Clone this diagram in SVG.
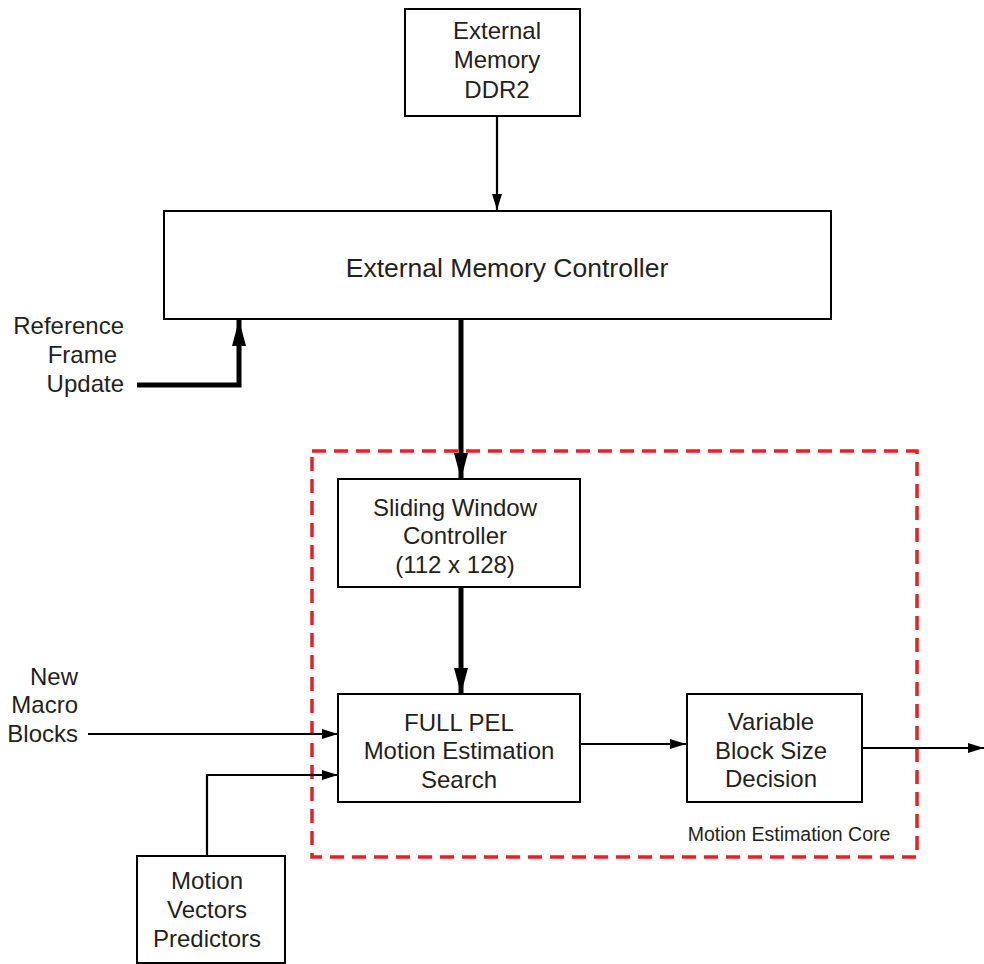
<svg xmlns="http://www.w3.org/2000/svg" width="984" height="964" viewBox="0 0 984 964">
<style>
.box{fill:#fff;stroke:#000;stroke-width:2}
.t{font-family:"Liberation Sans",Arial,sans-serif;font-size:24px;fill:#231f20;text-anchor:middle}
.tr{font-family:"Liberation Sans",Arial,sans-serif;font-size:24px;fill:#231f20;text-anchor:end}
.thin{fill:none;stroke:#000;stroke-width:2.2}
.thick{fill:none;stroke:#000;stroke-width:5}
</style>
<defs>
<marker id="ab" markerWidth="16" markerHeight="10" refX="16" refY="5" orient="auto" markerUnits="userSpaceOnUse"><path d="M0,0 L16,5 L0,10 Z" fill="#000"/></marker>
<marker id="ak" markerWidth="26" markerHeight="14" refX="26" refY="7" orient="auto" markerUnits="userSpaceOnUse"><path d="M0,0 L26,7 L0,14 Z" fill="#000"/></marker>
</defs>
<rect x="312" y="451" width="605" height="406" fill="none" stroke="#ed1c24" stroke-width="3.5" stroke-dasharray="14,8"/>
<text x="789" y="841" font-family="'Liberation Sans',Arial,sans-serif" font-size="19.5" fill="#231f20" text-anchor="middle">Motion Estimation Core</text>
<g id="connectors">
<line x1="497" y1="116" x2="497" y2="210" class="thin" marker-end="url(#ab)"/>
<polyline points="137,385 239,385 239,320" class="thick" marker-end="url(#ak)"/>
<line x1="461" y1="319" x2="461" y2="479" class="thick" marker-end="url(#ak)"/>
<line x1="461" y1="587" x2="461" y2="694" class="thick" marker-end="url(#ak)"/>
<line x1="88" y1="734" x2="338" y2="734" class="thin" marker-end="url(#ab)"/>
<polyline points="207,856 207,775 338,775" class="thin" marker-end="url(#ab)"/>
<line x1="580" y1="744" x2="686" y2="744" class="thin" marker-end="url(#ab)"/>
<line x1="862" y1="748" x2="984" y2="748" class="thin" marker-end="url(#ab)"/>
</g>
<g id="ddr2"><rect x="405" y="9" width="175" height="107" class="box"/>
<text class="t" x="497" y="39">External</text><text class="t" x="497" y="68">Memory</text><text class="t" x="497" y="98">DDR2</text></g>
<g id="emc"><rect x="164" y="211" width="667" height="108" class="box"/>
<text class="t" x="507" y="277" style="font-size:26.5px">External Memory Controller</text></g>
<g id="rfu"><text class="tr" x="124" y="334">Reference</text><text class="tr" x="117" y="363">Frame</text><text class="tr" x="124" y="392">Update</text></g>
<g id="swc"><rect x="338" y="479" width="242" height="108" class="box"/>
<text class="t" x="455" y="516">Sliding Window</text><text class="t" x="455" y="544">Controller</text><text class="t" x="455" y="573">(112 x 128)</text></g>
<g id="fullpel"><rect x="338" y="694" width="242" height="108" class="box"/>
<text class="t" x="459" y="731">FULL PEL</text><text class="t" x="459" y="759">Motion Estimation</text><text class="t" x="459" y="788">Search</text></g>
<g id="nmb"><text class="tr" x="78" y="685">New</text><text class="tr" x="78" y="713">Macro</text><text class="tr" x="78" y="742">Blocks</text></g>
<g id="mvp"><rect x="137" y="856" width="148" height="107" class="box"/>
<text class="t" x="207" y="889">Motion</text><text class="t" x="207" y="918">Vectors</text><text class="t" x="207" y="947">Predictors</text></g>
<g id="vbsd"><rect x="687" y="694" width="175" height="108" class="box"/>
<text class="t" x="771" y="730">Variable</text><text class="t" x="771" y="759">Block Size</text><text class="t" x="771" y="787">Decision</text></g>
</svg>
